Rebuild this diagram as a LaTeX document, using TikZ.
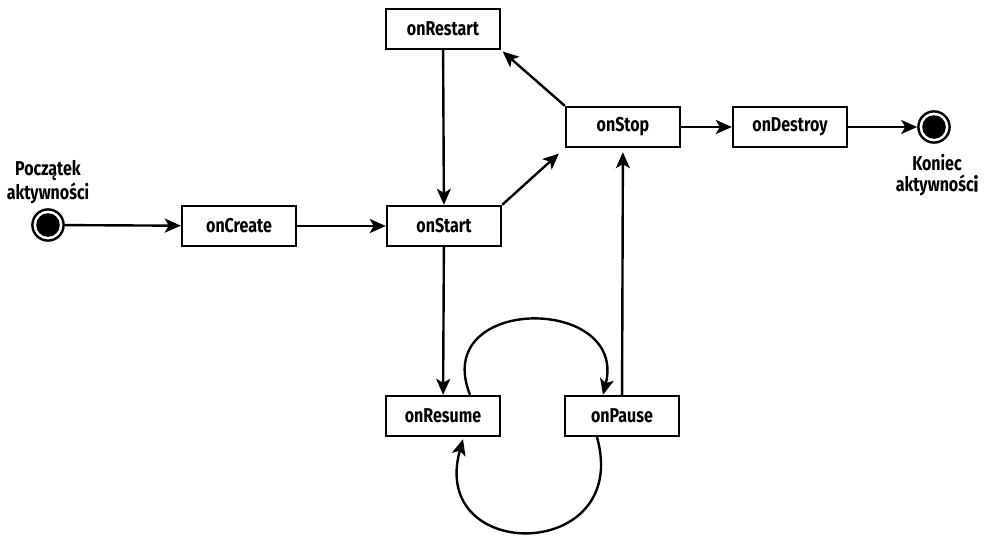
\documentclass[tikz,border=0pt]{standalone}
\usepackage{fontspec}
\setmainfont{Fira Sans}[FakeStretch=0.8]
\usetikzlibrary{arrows.meta, calc}

\tikzset{
  state/.style = {draw = black, line width = 1.2pt, shape = rectangle, inner sep = 0pt,
                  minimum width = 57pt, minimum height = 20pt, font = \bfseries\fontsize{10}{12}\selectfont},
  endpoint/.style = {draw = black, line width = 1.2pt, shape = circle, inner sep = 0pt, minimum size = 15.6pt},
  caption/.style = {align = center, inner sep = 0pt, font = \bfseries\fontsize{10}{10.5}\selectfont},
  flow/.style = {line width = 1.2pt, -{Stealth[length = 8pt, width = 7pt, inset = 2pt]}}
}

\begin{document}
\begin{tikzpicture}[x = 0.5pt, y = -0.5pt]
  \useasboundingbox (0, 0) rectangle (986, 536);

  % start and end
  \node[endpoint] (start) at (48, 225) {};
  \fill (start) circle [radius = 5.9pt];
  \node[caption] (startlbl) at (48, 182) {Początek\\aktywności};
  \node[endpoint] (end) at (934, 127) {};
  \fill (end) circle [radius = 5.9pt];
  \node[caption] (endlbl) at (937, 175) {Koniec\\aktywnośc{\addfontfeature{FakeBold=2}i}};

  % states
  \node[state] (onRestart) at (443, 29) {onRestart};
  \node[state] (onStop) at (623, 127) {onStop};
  \node[state] (onDestroy) at (790, 127) {onDestroy};
  \node[state] (onCreate) at (239, 226) {onCreate};
  \node[state] (onStart) at (444, 226) {onStart};
  \node[state] (onResume) at (443, 416) {onResume};
  \node[state] (onPause) at (622, 416) {onPause};

  % transitions
  \draw[flow] (start) -- (onCreate);
  \draw[flow] (onCreate) -- (onStart);
  \draw[flow, shorten > = 4pt] (onStart.north east) -- (onStop.south west);
  \draw[flow, shorten > = 1pt] (onStop.north west) -- (onRestart.south east);
  \draw[flow] (onRestart) -- (onStart);
  \draw[flow] (onStart) -- (onResume);
  \draw[flow, shorten > = 2pt] (onPause) -- (onStop);
  \draw[flow] (onStop) -- (onDestroy);
  \draw[flow] (onDestroy) -- (end);
  \draw[flow] ($(onResume.north) + (27, 0)$) .. controls +(-40, -100) and +(25, -100) .. ($(onPause.north) + (-19, 0)$);
  \draw[flow] ($(onPause.south) + (-25, 0)$) .. controls +(35, 125) and +(-35, 125) .. ($(onResume.south) + (20, 2)$);
\end{tikzpicture}
\end{document}
